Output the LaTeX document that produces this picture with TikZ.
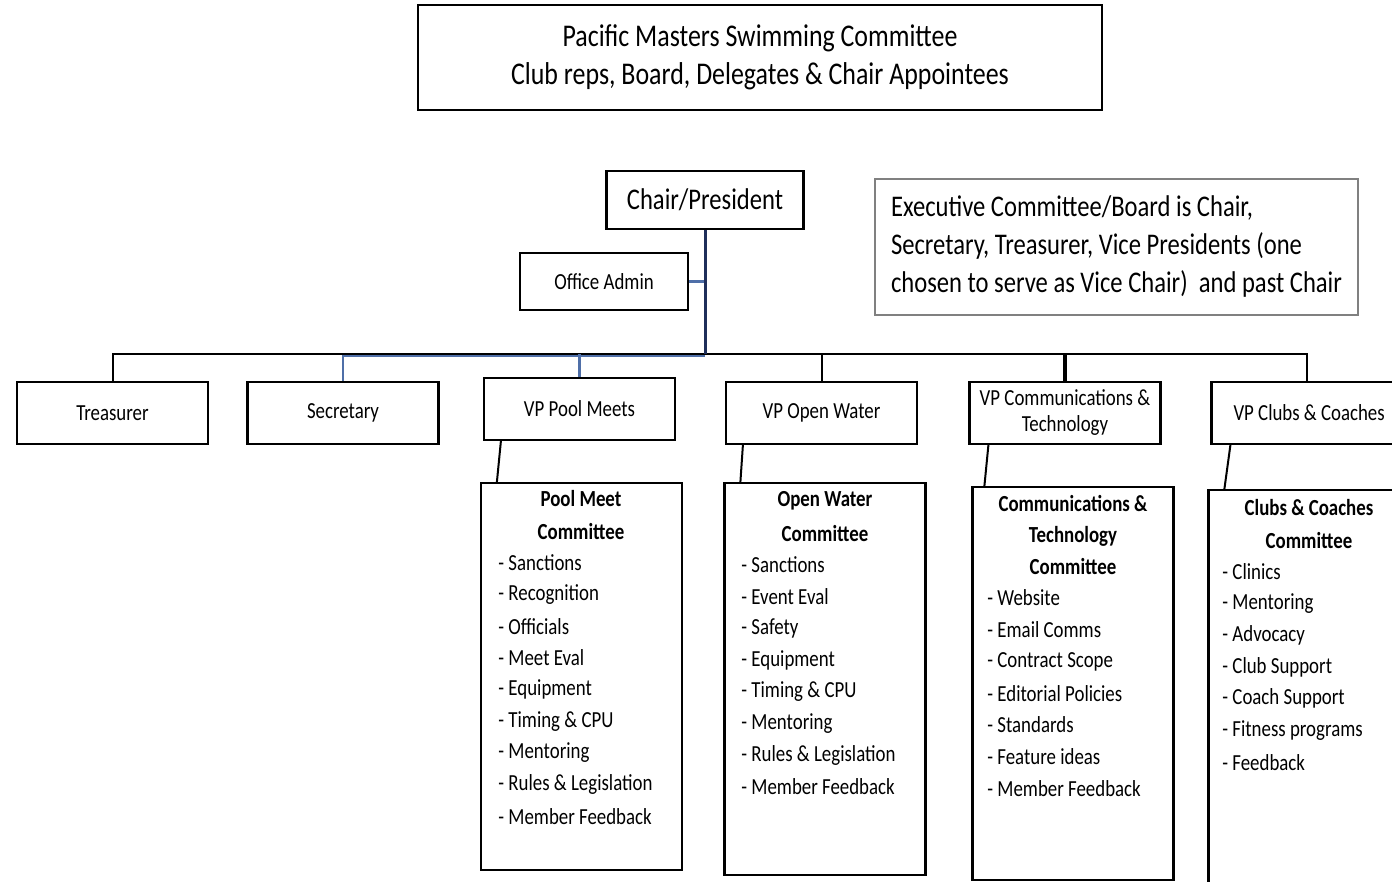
\documentclass[tikz,border=0pt]{standalone}
\usepackage{fontspec}
\setmainfont{Carlito}[FakeStretch=0.82]
\usetikzlibrary{positioning}
\definecolor{navyline}{HTML}{1F2F5A}
\definecolor{blueline}{HTML}{4F6FA8}
\tikzset{%
  every box/.style={
    rectangle,
    draw,
    line width=1.1pt,
    inner sep=0pt
  },
  vp box/.style={
    every box,
    minimum width=95.5pt,
    minimum height=31pt,
    font=\fontsize{11.5}{13}\selectfont,
    align=center
  },
  committee box/.style={
    every box,
    minimum width=100.5pt
  },
  link/.style={line width=1pt, black},
  blue link/.style={line width=1.3pt, blueline},
  trunk/.style={line width=1.5pt, navyline},
  item/.style={anchor=west, inner sep=0pt, font=\fontsize{11.5}{13}\selectfont},
  title/.style={inner sep=0pt, font=\fontsize{11.5}{13}\selectfont\bfseries}
}

\begin{document}
\begin{tikzpicture}[x=0.5pt, y=-0.5pt]

  \clip (0,0) rectangle (1392,882);

  % Top boxes
  \node [every box, minimum width=342pt, minimum height=52.5pt, align=center,
    font=\fontsize{15.8}{19}\selectfont] (committee) at (760,57.5)
    {Pacific Masters Swimming Committee\\Club reps, Board, Delegates \& Chair Appointees};
  \node [every box, minimum width=98.5pt, minimum height=29pt,
    font=\fontsize{15}{18}\selectfont] (chair) at (705,200) {Chair/President};
  \node [every box, minimum width=84pt, minimum height=28.5pt,
    font=\fontsize{11.5}{13}\selectfont] (office) at (604,281.5) {Office Admin};
  \node [rectangle, draw=gray, line width=0.6pt, minimum width=241.5pt, minimum height=68pt,
    inner sep=0pt, align=left,
    font=\fontsize{15}{19}\selectfont] (note) at (1116.5,247)
    {Executive Committee/Board is Chair,\\Secretary, Treasurer, Vice Presidents (one\\chosen to serve as Vice Chair)\ \ and past Chair};

  % VP row
  \node [vp box] (treasurer) at (112.5,413) {Treasurer};
  \node [vp box] (secretary) at (343,413) {Secretary};
  \node [vp box] (pool-vp) at (579.5,409) {VP Pool Meets};
  \node [vp box] (open-vp) at (821.5,413) {VP Open Water};
  \node [vp box] (comms-vp) at (1065,413) {VP Communications \&\\Technology};
  \node [vp box] (clubs-vp) at (1307,413) {\ VP Clubs \& Coaches};

  % Committee boxes
  \node [committee box, minimum height=193.5pt] (pool-cmt) at (581.5,676.5) {};
  \node [committee box, minimum height=196pt] (open-cmt) at (825,679) {};
  \node [committee box, minimum height=196.5pt] (comms-cmt) at (1073,683.5) {};
  \node [committee box, minimum height=205pt] (clubs-cmt) at (1309,695) {};

  % Committee titles
  \node [title] (pool-title-1) at (581,499) {Pool Meet};
  \node [title] (pool-title-2) at (581,532) {Committee};
  \node [title] (open-title-1) at (825,501) {Open Water};
  \node [title] (open-title-2) at (825,534) {Committee};
  \node [title] (comms-title-1) at (1073,503) {Communications \&};
  \node [title] (comms-title-2) at (1073,536) {Technology};
  \node [title] (comms-title-3) at (1073,567) {Committee};
  \node [title] (clubs-title-1) at (1309,508) {Clubs \& Coaches};
  \node [title] (clubs-title-2) at (1309,541) {Committee};

  % Committee items
  \foreach \t [count=\i] in {Sanctions, Recognition, Officials, Meet Eval, Equipment,
      Timing \& CPU, Mentoring, Rules \& Legislation, Member Feedback}
    \node [item] (pool-item-\i) at (498,563+31.65*\i-31.65) {- \t};
  \foreach \t [count=\i] in {Sanctions, Event Eval, Safety, Equipment, Timing \& CPU,
      Mentoring, Rules \& Legislation, Member Feedback}
    \node [item] (open-item-\i) at (741,565+31.7*\i-31.7) {- \t};
  \foreach \t [count=\i] in {Website, Email Comms, Contract Scope, Editorial Policies,
      Standards, Feature ideas, Member Feedback}
    \node [item] (comms-item-\i) at (987,598+31.7*\i-31.7) {- \t};
  \foreach \t [count=\i] in {Clinics, Mentoring, Advocacy, Club Support, Coach Support,
      Fitness programs, Feedback}
    \node [item] (clubs-item-\i) at (1222,572+31.7*\i-31.7) {- \t};

  % Bus and trunk
  \coordinate (bus) at (705,354);
  \draw [link] (treasurer.north) |- (clubs-vp.north |- bus) -- (clubs-vp.north);
  \foreach \n in {open, clubs}
    \draw [link] (\n-vp.north) -- (\n-vp.north |- bus);
  \draw [link, line width=1.6pt] (comms-vp.north) -- (comms-vp.north |- bus);
  \draw [blue link] (secretary.north) -- ([yshift=-1pt]secretary.north |- bus)
    -- ([yshift=-1pt]bus);
  \draw [blue link] (pool-vp.north) -- (pool-vp.north |- bus);
  \draw [blue link] (office.east) -- (office.east -| bus);
  \draw [trunk] (chair.south) -- (bus);

  % VP to committee
  \foreach \n/\a/\b in {pool/9/8.5, open/9/8.5, comms/10/6.5, clubs/10/8.5}
    \draw [link] ([xshift=\a pt]\n-vp.south west) -- ([xshift=\b pt]\n-cmt.north west);

\end{tikzpicture}
\end{document}
